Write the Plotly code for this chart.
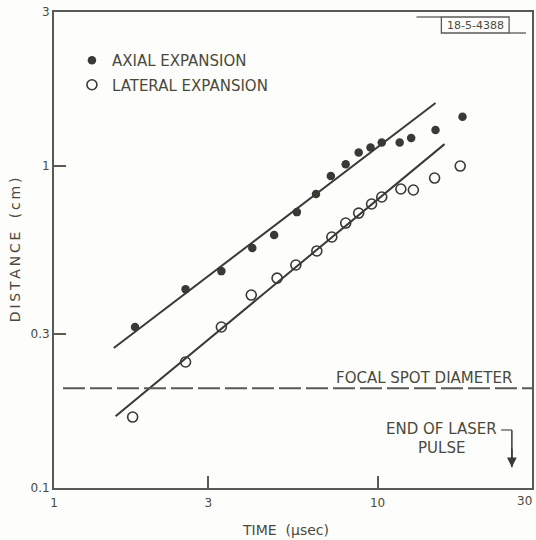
import math
import plotly.graph_objects as go

# ---- data ----
axial_t = [1.78, 2.55, 3.29, 4.10, 4.79, 5.63, 6.45, 7.17, 7.97, 8.74, 9.51, 10.3, 11.7, 12.7, 15.1, 18.3]
axial_d = [0.316, 0.414, 0.471, 0.556, 0.610, 0.718, 0.817, 0.929, 1.01, 1.10, 1.14, 1.18, 1.18, 1.22, 1.29, 1.42]

lateral_t = [1.75, 2.55, 3.29, 4.07, 4.89, 5.59, 6.49, 7.22, 7.97, 8.74, 9.58, 10.3, 11.8, 12.9, 15.0, 18.0]
lateral_d = [0.166, 0.246, 0.316, 0.397, 0.448, 0.492, 0.544, 0.601, 0.664, 0.713, 0.761, 0.800, 0.847, 0.841, 0.916, 0.998]

axial_fit_t = [1.53, 15.1]
axial_fit_d = [0.272, 1.565]
lateral_fit_t = [1.55, 16.1]
lateral_fit_d = [0.167, 1.167]

focal_spot_t = [1.066, 30]
focal_spot_d = [0.204, 0.204]

laser_end_t = 26.0
laser_arrow_d = [0.151, 0.116]

x_ticks = [1, 3, 10, 30]
x_ticktext = ["1", "3", "10", "30"]
y_ticks = [0.1, 0.3, 1, 3]
y_ticktext = ["0.1", "0.3", "1", "3"]

# ---- styling ----
W, H = 536, 540
L, R, T, B = 54, 2, 12, 52
PW, PH = W - L - R, H - T - B
INK = "#3a3a34"
AX = "#5a5a55"
TXT = "#4a4a3c"
FONT = "DejaVu Sans"
TS = "\u2009"  # thin space for the wide lettering


def px(x):
    return (x - L) / PW


def py(y):
    return (H - B - y) / PH


def spaced(s):
    return TS.join(list(s))


fig = go.Figure()

fig.add_trace(go.Scatter(x=axial_fit_t, y=axial_fit_d, mode="lines",
                         line=dict(color=INK, width=2), showlegend=False, hoverinfo="skip"))
fig.add_trace(go.Scatter(x=lateral_fit_t, y=lateral_fit_d, mode="lines",
                         line=dict(color=INK, width=2), showlegend=False, hoverinfo="skip"))
fig.add_trace(go.Scatter(x=focal_spot_t, y=focal_spot_d, mode="lines",
                         line=dict(color=AX, width=2, dash="22px,5px"), showlegend=False, hoverinfo="skip"))

fig.add_trace(go.Scatter(x=axial_t, y=axial_d, mode="markers", name="AXIAL EXPANSION",
                         legendgroup="a",
                         marker=dict(symbol="circle", size=8.5, color=INK, line=dict(width=0))))
fig.add_trace(go.Scatter(x=lateral_t, y=lateral_d, mode="markers", name="LATERAL EXPANSION",
                         legendgroup="b",
                         marker=dict(symbol="circle-open", size=10, color=INK, line=dict(width=1.6, color=INK))))

# arrow for end of laser pulse
fig.add_trace(go.Scatter(x=[laser_end_t, laser_end_t], y=laser_arrow_d, mode="lines",
                         line=dict(color=INK, width=1.5), showlegend=False, hoverinfo="skip"))
fig.add_annotation(x=math.log10(laser_end_t), y=math.log10(laser_arrow_d[1]), xref="x", yref="y",
                   text="", showarrow=True,
                   ax=0, ay=-20, arrowhead=2, arrowsize=1.3, arrowwidth=1.5, arrowcolor=INK)

annos = [
    dict(text="FOCAL SPOT DIAMETER", x=426, y=378, size=15, xa="center"),
    dict(text="END OF LASER", x=443, y=429, size=15, xa="center"),
    dict(text="PULSE", x=443, y=448, size=15, xa="center"),
    dict(text="TIME  (μsec)", x=286, y=530, size=14, xa="center"),
    dict(text="18-5-4388", x=477, y=25, size=11, xa="center"),
    # last x tick label (at the page edge in the reference)
    dict(text=x_ticktext[-1], x=W, y=501, size=12, xa="right"),
]
for a in annos:
    fig.add_annotation(text=a["text"], x=px(a["x"]), y=py(a["y"]), xref="paper", yref="paper",
                       showarrow=False, xanchor=a["xa"], yanchor="middle",
                       font=dict(family=FONT, size=a["size"], color=TXT))
fig.add_annotation(text=spaced("DISTANCE") + "   " + spaced("(cm)"), x=px(15), y=py(250),
                   xref="paper", yref="paper",
                   showarrow=False, textangle=-90, xanchor="center", yanchor="middle",
                   font=dict(family=FONT, size=14, color=TXT))

shapes = [
    # stamp box
    dict(type="rect", x0=px(443), x1=px(511), y0=py(33), y1=py(17)),
    dict(type="line", x0=px(418), x1=px(443), y0=py(17), y1=py(17)),
    dict(type="line", x0=px(511), x1=px(528), y0=py(33), y1=py(33)),
    # hook of laser arrow
    dict(type="line", x0=px(503), x1=px(514), y0=py(430), y1=py(430)),
]
for s in shapes:
    s.update(xref="paper", yref="paper", line=dict(color=AX, width=1.3))
    fig.add_shape(**s)

axis_common = dict(showgrid=False, zeroline=False, showline=True, mirror=True,
                   linecolor=AX, linewidth=2, ticks="inside", ticklen=12, tickwidth=1.5,
                   tickcolor=AX, tickfont=dict(family=FONT, size=12, color=TXT))
fig.update_xaxes(type="log", range=[0, math.log10(30)], tickvals=x_ticks[:-1], ticktext=x_ticktext[:-1],
                 ticklabelstandoff=3, **axis_common)
fig.update_yaxes(type="log", range=[-1, math.log10(3)], tickvals=y_ticks, ticktext=y_ticktext, **axis_common)

fig.update_layout(
    width=W, height=H,
    margin=dict(l=L, r=R, t=T, b=B),
    paper_bgcolor="#fdfdfb", plot_bgcolor="#fdfdfb",
    showlegend=True,
    legend=dict(x=px(72), y=py(44), xanchor="left", yanchor="top",
                bgcolor="rgba(0,0,0,0)", tracegroupgap=2,
                font=dict(family=FONT, size=15, color=TXT)),
)

fig.write_html("out.html")
